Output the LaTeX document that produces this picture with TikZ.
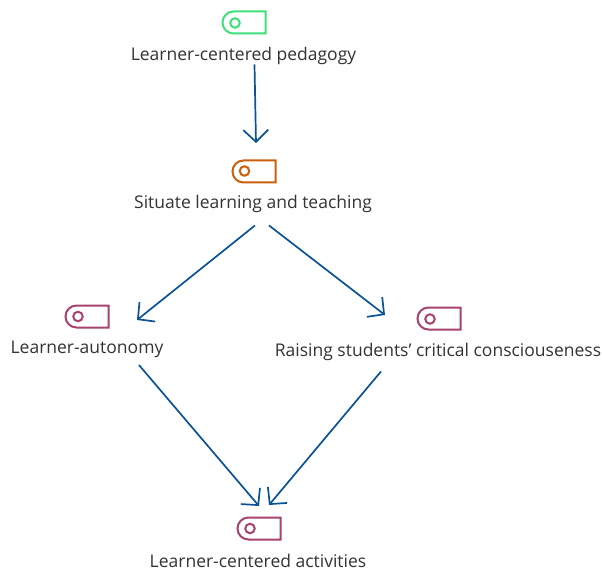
\documentclass[tikz,border=0pt]{standalone}
\usepackage{fontspec}
\defaultfontfeatures{}
\setmainfont{Open Sans}[Ligatures=ResetAll]
\usetikzlibrary{arrows.meta,shapes.misc}
\definecolor{arrowblue}{HTML}{0B5394}
\definecolor{taggreen}{HTML}{3FE07A}
\definecolor{tagorange}{HTML}{CC600A}
\definecolor{tagplum}{HTML}{A8426E}
\definecolor{labelgrey}{HTML}{333333}
\tikzset{
  x=1pt,y=-1pt,
  tagbody/.style={draw=#1,line width=2pt,rounded rectangle,rounded rectangle east arc=none,
    minimum width=43pt,minimum height=22pt,inner sep=0pt,outer sep=0pt},
  taghole/.style={circle,draw=#1,line width=2pt,minimum size=9.5pt,inner sep=0pt},
  label text/.style={text=labelgrey,font=\fontsize{17.5pt}{20pt}\selectfont,inner sep=0pt,anchor=center},
  link/.style={draw=arrowblue,line width=1.7pt,-{Straight Barb[length=12pt,width=25pt,line width=1.7pt]}}
}
\begin{document}
\begin{tikzpicture}
\useasboundingbox (0,0) rectangle (602,569);
\fill[white] (0,0) rectangle (602,569);
\node[tagbody=taggreen] (t1) at (244,22.5) {};
\node[taghole=taggreen] (h1) at (235,23) {};
\node[tagbody=tagorange] (t2) at (254,171.5) {};
\node[taghole=tagorange] (h2) at (244.5,171) {};
\node[tagbody=tagplum] (t3) at (87,316.5) {};
\node[taghole=tagplum] (h3) at (78,316.5) {};
\node[tagbody=tagplum] (t4) at (439,318.5) {};
\node[taghole=tagplum] (h4) at (430,319) {};
\node[tagbody=tagplum] (t5) at (259,528.5) {};
\node[taghole=tagplum] (h5) at (250,528.5) {};
\node[label text] (l1) at (243.5,55.5) {Learner-centered pedagogy};
\node[label text] (l2) at (253,203.5) {Situate learning and teaching};
\node[label text] (l3) at (87,349.5) {Learner-autonomy};
\node[label text] (l4) at (438,351.5) {Raising students' critical consciouseness};
\node[label text] (l5) at (258,560.5) {Learner-centered activities};
\path[link] ([xshift=11pt]l1.south) -- ([xshift=2pt,yshift=17.5pt]t2.north);
\path[link] ([xshift=2pt,yshift=-13pt]l2.south) -- ([xshift=28.5pt,yshift=-3.5pt]t3.east);
\path[link] ([xshift=16pt,yshift=-13pt]l2.south) -- ([xshift=-32.5pt,yshift=3.5pt]t4.west);
\path[link] ([xshift=52pt,yshift=-7pt]l3.south) -- ([xshift=0pt,yshift=11.5pt]t5.north);
\path[link] ([xshift=-57pt,yshift=-11pt]l4.south) -- ([xshift=10pt,yshift=12.5pt]t5.north);
\end{tikzpicture}
\end{document}
